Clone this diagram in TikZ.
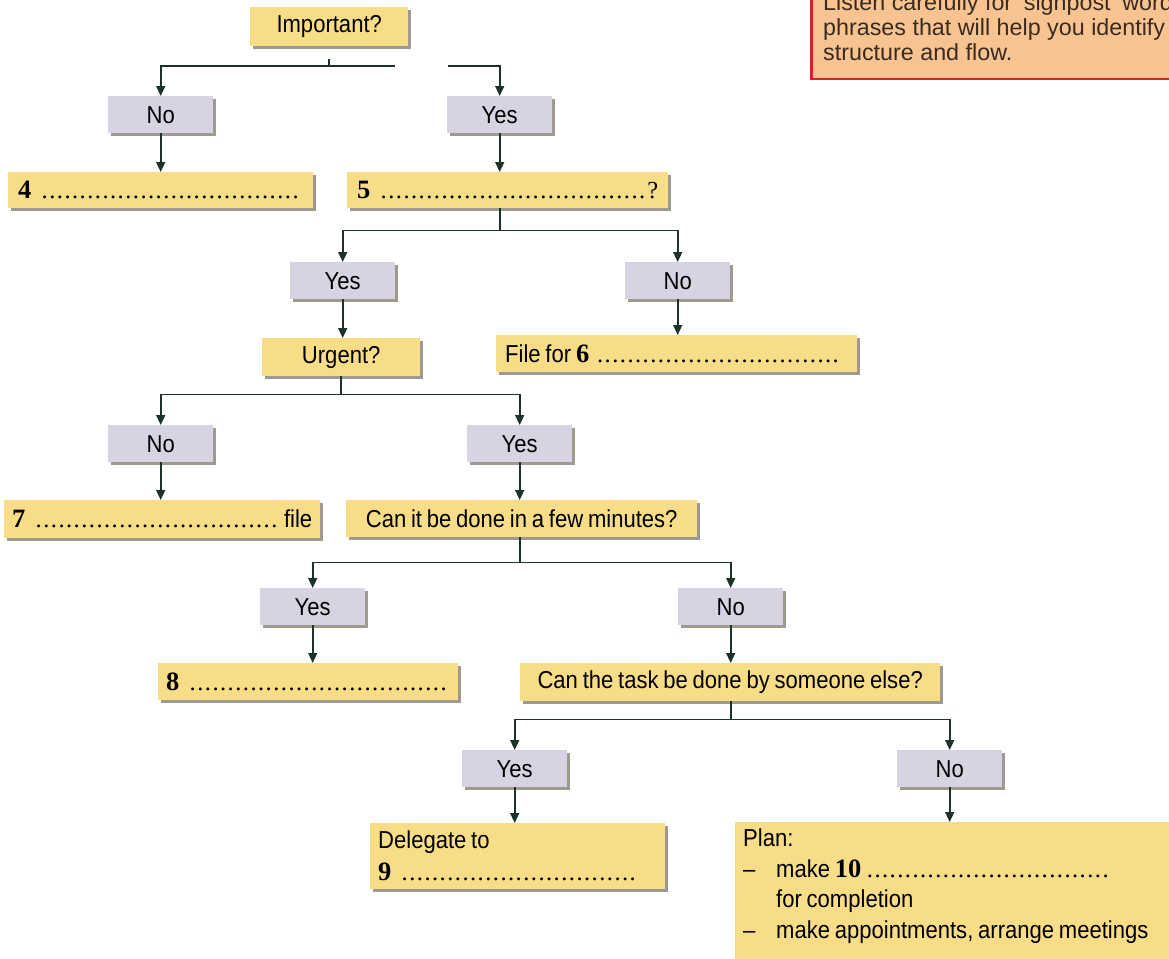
\documentclass[tikz,border=0pt]{standalone}
\usepackage{fontspec}
\usetikzlibrary{arrows.meta,shadows,calc}
\newfontfamily\cond{Liberation Sans}[FakeStretch=0.9, WordSpace=0.78]
\newfontfamily\plainf{Liberation Sans}
\newfontfamily\serf{Liberation Serif}
\definecolor{ylw}{HTML}{F8DD88}
\definecolor{lav}{HTML}{D8D3E2}
\definecolor{shd}{HTML}{7E7868}
\definecolor{lnc}{HTML}{1E3328}
\definecolor{peach}{HTML}{F6C391}
\definecolor{redb}{HTML}{D8232B}
\definecolor{tipt}{HTML}{3B2A1E}
\newcommand\dotsfill{\leaders\hbox to 7.6pt{\hss{\serf.}\hss}\hskip 0pt plus 1fill\relax}
\newcommand\numb[1]{{\serf\bfseries\fontsize{26.5}{28}\selectfont #1}}
\newcommand\tight{\spaceskip=0pt\xspaceskip=0pt\relax}
\begin{document}
\begin{tikzpicture}[x=1pt,y=-1pt,
  box/.style={font=\cond\fontsize{24.5}{28}\selectfont, inner sep=0pt, text=black,
    drop shadow={shadow xshift=3pt, shadow yshift=-3pt, fill=shd, opacity=0.75}},
  ybox/.style={box, fill=ylw, anchor=north west},
  lbox/.style={box, fill=lav, minimum width=105pt, minimum height=37pt, anchor=north west},
  conn/.style={draw=lnc, line width=1.6pt, -{Triangle[length=10pt,width=9pt]}},
  plainline/.style={draw=lnc, line width=1.6pt},
  tipbox/.style={draw=redb, line width=2.5pt, fill=peach},
  tiptext/.style={font=\plainf\fontsize{23.3}{25}\selectfont, text=tipt, align=left, inner sep=0pt}
]
\useasboundingbox (0,0) rectangle (1169,958);
\clip (0,0) rectangle (1169,958);

% tip box
\node[tipbox, anchor=south west, minimum width=420pt, minimum height=130pt] (tip) at (810,80) {};
\node[tiptext, anchor=north west] (tiptxt) at (823,-7) {\tight Listen carefully for ‘signpost’ words\\phrases that will help you identify\\structure and flow.};

% level 1
\node[ybox, minimum width=158pt, minimum height=39pt] (imp) at (250,7) {Important?};
\node[lbox] (no1) at (108,96) {No};
\node[lbox] (yes1) at (447,96) {Yes};
\node[ybox, text width=285pt, inner xsep=10pt, minimum height=36pt, align=left] (b4) at (8,172) {\tight\numb{4}\ \dotsfill\hspace*{2pt}};
\node[ybox, text width=301pt, inner xsep=10pt, minimum height=36pt, align=left] (b5) at (347,172) {\tight\numb{5}\ \dotsfill{\serf ?}};

% level 2
\node[lbox] (yes2) at (290,262) {Yes};
\node[lbox] (no2) at (625,262) {No};
\node[ybox, minimum width=158pt, minimum height=38pt] (urg) at (262,338) {Urgent?};
\node[ybox, text width=343pt, inner xsep=9pt, minimum height=37pt, align=left] (b6) at (496,335) {\tight File for \numb{6}\ \dotsfill\hspace*{5pt}};

% level 3
\node[lbox] (no3) at (108,425) {No};
\node[lbox] (yes3) at (467,425) {Yes};
\node[ybox, text width=300pt, inner xsep=8pt, minimum height=38pt, align=left] (b7) at (4,500) {\tight\numb{7}\ \dotsfill file};
\node[ybox, minimum width=351pt, minimum height=37pt] (canit) at (346,500) {Can it be done in a few minutes?};

% level 4
\node[lbox] (yes4) at (260,588) {Yes};
\node[lbox] (no4) at (678,588) {No};
\node[ybox, text width=284pt, inner xsep=8pt, minimum height=37pt, align=left] (b8) at (158,663) {\tight\numb{8}\ \dotsfill\hspace*{1pt}};
\node[ybox, minimum width=420pt, minimum height=38pt] (task) at (520,663) {Can the task be done by someone else?};

% level 5
\node[lbox] (yes5) at (462,750) {Yes};
\node[lbox] (no5) at (897,750) {No};
\node[ybox, font=\cond\fontsize{24.5}{32}\selectfont, text width=279pt, inner xsep=8pt, inner ysep=8pt, align=left] (del) at (370,823) {\tight Delegate to\\\numb{9}\ \dotsfill\hspace*{14pt}};
\node[ybox, font=\cond\fontsize{24.5}{30.5}\selectfont, text width=444pt, inner xsep=8pt, inner ysep=7pt, align=left] (plan) at (735,822)
 {\tight Plan:\\
  \makebox[33pt][l]{–}make \numb{10}\ \makebox[245pt]{\dotsfill}\\
  \hspace*{33pt}for completion\\
  \makebox[33pt][l]{–}make appointments, arrange meetings\\
  \mbox{}};

% connectors
\coordinate (tk1) at (329,59);
\coordinate (tk2) at (329,66);
\coordinate (gl) at (395,66);
\coordinate (gr) at (448,66);
\draw[plainline] (tk1) -- (tk2);
\draw[conn] (gl) -| (no1.north);
\draw[conn] (gr) -| (yes1.north);
\draw[conn] (no1.south) -- (no1.south |- b4.north);
\draw[conn] (yes1.south) -- (yes1.south |- b5.north);

\coordinate (s5) at ($(b5.south -| yes1.south)+(0,22)$);
\draw[plainline] (b5.south -| yes1.south) -- (s5);
\draw[conn] (s5) -| (yes2.north);
\draw[conn] (s5) -| (no2.north);
\draw[conn] (yes2.south) -- (yes2.south |- urg.north);
\draw[conn] (no2.south) -- (no2.south |- b6.north);

\coordinate (su) at ($(urg.south)+(0,18)$);
\draw[plainline] (urg.south) -- (su);
\draw[conn] (su) -| (no3.north);
\draw[conn] (su) -| (yes3.north);
\draw[conn] (no3.south) -- (no3.south |- b7.north);
\draw[conn] (yes3.south) -- (yes3.south |- canit.north);

\coordinate (sc) at ($(canit.south -| yes3.south)+(0,25)$);
\draw[plainline] (canit.south -| yes3.south) -- (sc);
\draw[conn] (sc) -| (yes4.north);
\draw[conn] (sc) -| (no4.north);
\draw[conn] (yes4.south) -- (yes4.south |- b8.north);
\draw[conn] (no4.south) -- (no4.south |- task.north);

\coordinate (st) at ($(task.south -| no4.south)+(0,18)$);
\draw[plainline] (task.south -| no4.south) -- (st);
\draw[conn] (st) -| (yes5.north);
\draw[conn] (st) -| (no5.north);
\draw[conn] (yes5.south) -- (yes5.south |- del.north);
\draw[conn] (no5.south) -- (no5.south |- plan.north);
\end{tikzpicture}
\end{document}
